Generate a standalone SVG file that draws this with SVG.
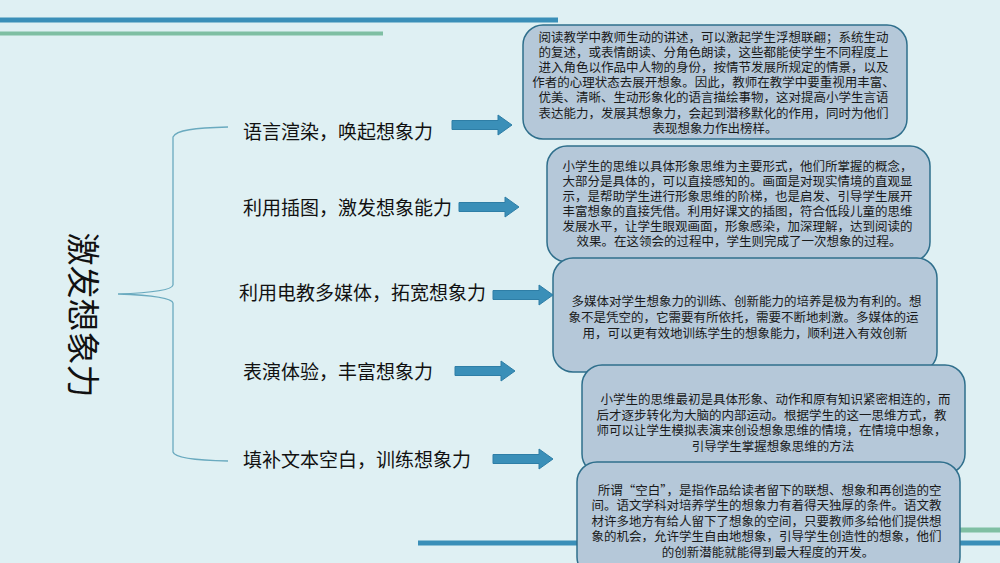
<svg xmlns="http://www.w3.org/2000/svg" width="1000" height="563" viewBox="0 0 1000 563">
<defs>
<style>
.bg{fill:#dff0f3}
.bl{fill:#3a8fb8}
.gr{fill:#7fbfa3}
.box{fill:#b5c8d9;stroke:#2f6f8c;stroke-width:1.5}
.bt{font-family:"Noto Sans CJK SC","Noto Sans",sans-serif;font-size:12.5px;fill:#1a1a1a;text-anchor:middle}
.lb{font-family:"Noto Sans CJK SC","Noto Sans",sans-serif;font-size:19px;fill:#111}
.ttl{font-family:"Noto Sans CJK SC","Noto Sans",sans-serif;font-size:33px;fill:#111;text-anchor:middle}
.arr{fill:#3a8fb8;stroke:#2e7ea6;stroke-width:1}
.brk{fill:none;stroke:#6aaabf;stroke-width:1.3}
</style>
<path id="arrow" d="M0,-4.5 H46 V-10 L60,0 L46,10 V4.5 H0 Z"/>
</defs>
<rect class="bg" x="0" y="0" width="1000" height="563"/>
<g id="decor">
<rect class="bl" x="0" y="17.5" width="558" height="5"/>
<rect class="gr" x="0" y="31.5" width="383" height="4"/>
<rect class="gr" x="860" y="527.5" width="140" height="5"/>
<rect class="bl" x="418" y="540.5" width="582" height="5"/>
</g>
<g id="title">
<text class="ttl" transform="translate(82,315) rotate(90)" y="11">激发想象力</text>
</g>
<g id="bracket">
<path class="brk" d="M228,127 C195,128 176,130 173,137 V285 Q172,292 118,294 Q172,296 173,303 V452 Q175,460 228,461"/>
</g>
<g id="labels">
<g id="label1"><text class="lb" x="243" y="138.5">语言渲染，唤起想象力</text></g>
<g id="label2"><text class="lb" x="243" y="214.5">利用插图，激发想象能力</text></g>
<g id="label3"><text class="lb" x="239" y="299.5">利用电教多媒体，拓宽想象力</text></g>
<g id="label4"><text class="lb" x="243" y="378.5">表演体验，丰富想象力</text></g>
<g id="label5"><text class="lb" x="243" y="466.5">填补文本空白，训练想象力</text></g>
</g>
<g id="box1">
<rect class="box" x="523" y="25" width="384" height="114" rx="20"/>
<text class="bt">
<tspan x="715" y="41.5">阅读教学中教师生动的讲述，可以激起学生浮想联翩；系统生动</tspan>
<tspan x="715" y="56.7">的复述，或表情朗读、分角色朗读，这些都能使学生不同程度上</tspan>
<tspan x="715" y="71.9">进入角色以作品中人物的身份，按情节发展所规定的情景，以及</tspan>
<tspan x="715" y="87.1">作者的心理状态去展开想象。因此，教师在教学中要重视用丰富、</tspan>
<tspan x="715" y="102.3">优美、清晰、生动形象化的语言描绘事物，这对提高小学生言语</tspan>
<tspan x="715" y="117.5">表达能力，发展其想象力，会起到潜移默化的作用，同时为他们</tspan>
<tspan x="715" y="132.7">表现想象力作出榜样。</tspan>
</text>
</g>
<g id="box2">
<rect class="box" x="547" y="146" width="383" height="116" rx="20"/>
<text class="bt">
<tspan x="739" y="170.5">小学生的思维以具体形象思维为主要形式，他们所掌握的概念，</tspan>
<tspan x="739" y="185.5">大部分是具体的，可以直接感知的。画面是对现实情境的直观显</tspan>
<tspan x="739" y="200.5">示，是帮助学生进行形象思维的阶梯，也是启发、引导学生展开</tspan>
<tspan x="739" y="215.5">丰富想象的直接凭借。利用好课文的插图，符合低段儿童的思维</tspan>
<tspan x="739" y="230.5">发展水平，让学生眼观画面，形象感染，加深理解，达到阅读的</tspan>
<tspan x="739" y="245.5">效果。在这领会的过程中，学生则完成了一次想象的过程。</tspan>
</text>
</g>
<g id="box3">
<rect class="box" x="553" y="258" width="384" height="114" rx="20"/>
<text class="bt">
<tspan x="748" y="305.5">多媒体对学生想象力的训练、创新能力的培养是极为有利的。想</tspan>
<tspan x="745" y="321.5">象不是凭空的，它需要有所依托，需要不断地刺激。多媒体的运</tspan>
<tspan x="745" y="337.5">用，可以更有效地训练学生的想象能力，顺利进入有效创新</tspan>
</text>
</g>
<g id="box4">
<rect class="box" x="582" y="365" width="383" height="109" rx="20"/>
<text class="bt">
<tspan x="777" y="403.5">小学生的思维最初是具体形象、动作和原有知识紧密相连的，而</tspan>
<tspan x="773" y="419.5">后才逐步转化为大脑的内部运动。根据学生的这一思维方式，教</tspan>
<tspan x="773" y="435">师可以让学生模拟表演来创设想象思维的情境，在情境中想象，</tspan>
<tspan x="773" y="450.5">引导学生掌握想象思维的方法</tspan>
</text>
</g>
<g id="box5">
<rect class="box" x="577" y="462" width="383" height="115" rx="20"/>
<text class="bt">
<tspan x="771" y="494.5">所谓“空白”，是指作品给读者留下的联想、想象和再创造的空</tspan>
<tspan x="768" y="510">间。语文学科对培养学生的想象力有着得天独厚的条件。语文教</tspan>
<tspan x="768" y="525.5">材许多地方有给人留下了想象的空间，只要教师多给他们提供想</tspan>
<tspan x="768" y="541">象的机会，允许学生自由地想象，引导学生创造性的想象，他们</tspan>
<tspan x="768" y="556.5">的创新潜能就能得到最大程度的开发。</tspan>
</text>
</g>
<g id="connectors">
<use href="#arrow" class="arr" transform="translate(452,125)"/>
<use href="#arrow" class="arr" transform="translate(459,207)"/>
<use href="#arrow" class="arr" transform="translate(493,295)"/>
<use href="#arrow" class="arr" transform="translate(455,371)"/>
<use href="#arrow" class="arr" transform="translate(493,459)"/>
</g>
</svg>
